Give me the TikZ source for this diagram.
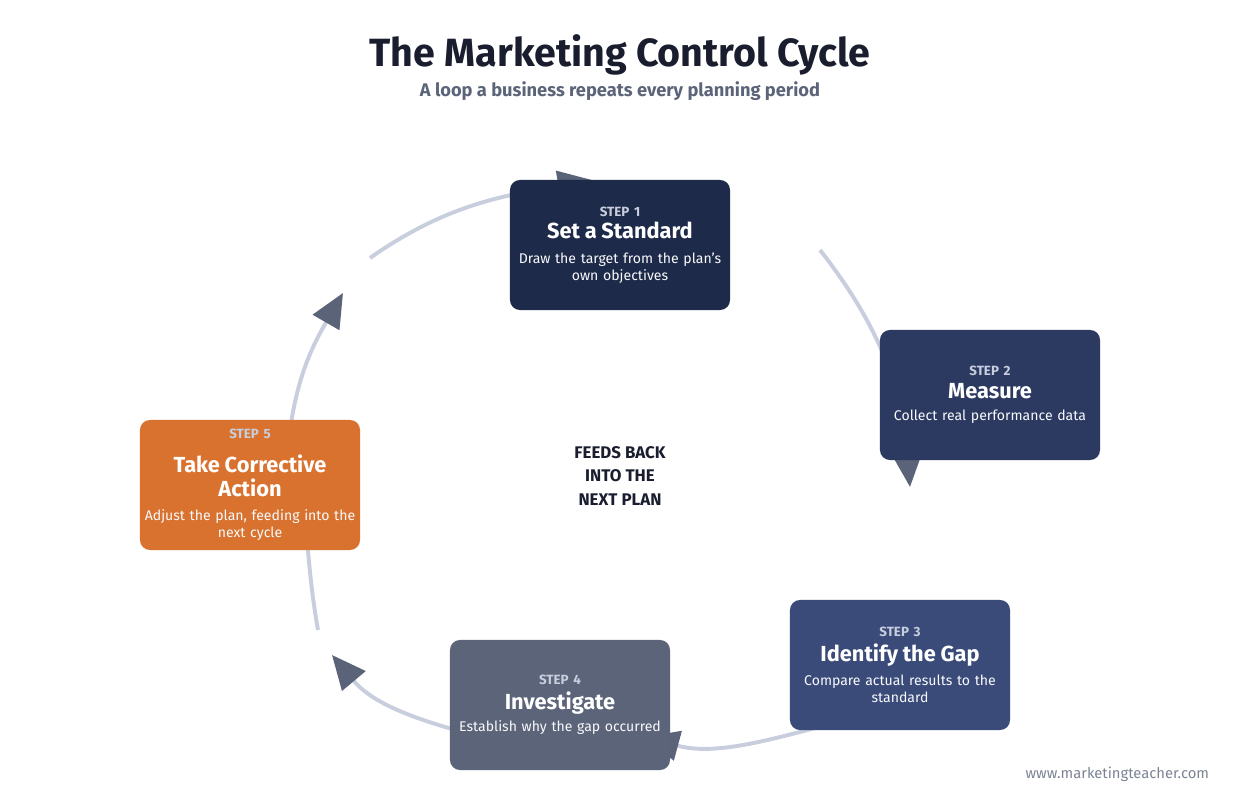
\documentclass[tikz,border=0pt]{standalone}
\usepackage{fontspec}
\setmainfont{Fira Sans}
\usetikzlibrary{arrows.meta,positioning,backgrounds}
\definecolor{inkc}{HTML}{1A1D2E}
\definecolor{subc}{HTML}{5B6478}
\definecolor{linkc}{HTML}{C8CEDD}
\definecolor{tipc}{HTML}{5B6378}
\definecolor{stepa}{HTML}{1E2A4A}
\definecolor{stepb}{HTML}{2C3A62}
\definecolor{stepc}{HTML}{3A4B7A}
\definecolor{stepd}{HTML}{5B6478}
\definecolor{stepe}{HTML}{D9722E}
\newcommand{\stepbox}[3]{{\fontsize{9.5}{11}\bfseries\color{linkc}#1}\\[4pt]{\fontsize{15.5}{20}\bfseries\color{white}#2}\\[4pt]{\fontsize{10}{13.5}\selectfont\color{white!88!linkc}#3}}

\begin{document}
\begin{tikzpicture}[x=0.025cm,y=0.025cm,
    stepnode/.style={rounded corners=10*0.025cm,minimum width=5.5cm,minimum height=3.25cm,
      text width=5.5cm,align=center,inner sep=0pt,execute at begin node={\hyphenpenalty=10000}},
    link/.style={draw=linkc,line width=2.8pt,-{Triangle[length=0.85cm,width=0.75cm,color=tipc]}}]
    \useasboundingbox (0,0) rectangle (1240,800);
    \node[font=\fontsize{28}{32}\bfseries,text=inkc] (title) at (620,745) {The Marketing Control Cycle};
    \node[font=\fontsize{13}{16}\bfseries,text=subc] (sub) at (620,709) {A loop a business repeats every planning period};
    \node[stepnode,fill=stepa] (s1) at (620,555) {\stepbox{STEP 1}{Set a Standard}{Draw the target from the plan's\\own objectives}};
    \node[stepnode,fill=stepb] (s2) at (990,405) {\stepbox{STEP 2}{Measure}{Collect real performance data}};
    \node[stepnode,fill=stepc] (s3) at (900,135) {\stepbox{STEP 3}{Identify the Gap}{Compare actual results to the\\standard}};
    \node[stepnode,fill=stepd] (s4) at (560,95) {\stepbox{STEP 4}{Investigate}{Establish why the gap occurred}};
    \node[stepnode,fill=stepe] (s5) at (250,315) {\stepbox{STEP 5}{Take Corrective\\[3pt]Action}{Adjust the plan, feeding into the\\next cycle}};
    \node[font=\fontsize{12}{17}\bfseries,text=inkc,align=center] (mid) at (620,324) {FEEDS BACK\\INTO THE\\NEXT PLAN};
    \node[font=\fontsize{10.5}{13}\selectfont,text=subc!80,anchor=east] (url) at (1214,26) {www.marketingteacher.com};
    % connectors sit behind the boxes
    \coordinate (a0) at (290,370); \coordinate (a1) at (343,507);
    \coordinate (b0) at (370,542); \coordinate (b1) at (592,620);
    \coordinate (c0) at (820,550); \coordinate (c1) at (910,313);
    \coordinate (d0) at (815,72);  \coordinate (d1) at (645,63);
    \coordinate (e0) at (470,66);  \coordinate (e1) at (332,145);
    \coordinate (f0) at (318,170); \coordinate (f1) at (300,300);
    \begin{scope}[on background layer]
      \draw[link] (a0) to[out=82,in=-120] (a1);
      \draw[link] (b0) to[out=35,in=190] (b1);
      \draw[link] (c0) to[out=-52,in=95] (c1);
      \draw[link] (d0) to[out=195,in=-15] (d1);
      \draw[link] (e0) to[out=165,in=-50] (e1);
      \draw[link] (f0) to[out=100,in=-80] (f1);
    \end{scope}
\end{tikzpicture}
\end{document}
